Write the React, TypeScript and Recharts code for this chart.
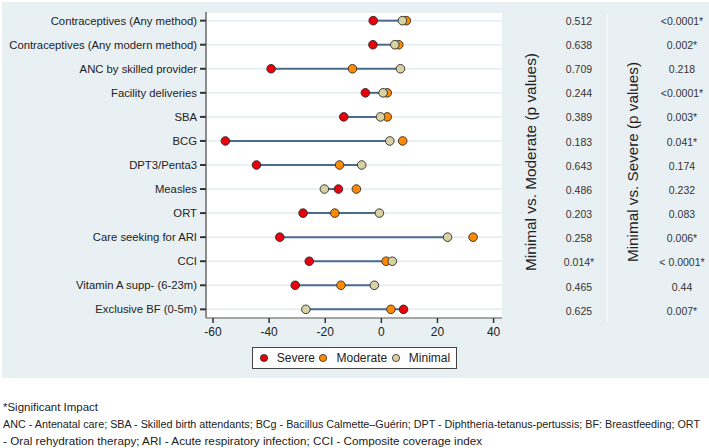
import React from "react";
import {
  ScatterChart,
  Scatter,
  XAxis,
  YAxis,
  CartesianGrid,
  ReferenceLine,
  Legend,
} from "recharts";

const categories = [
  "Contraceptives (Any method)",
  "Contraceptives (Any modern method)",
  "ANC by skilled provider",
  "Facility deliveries",
  "SBA",
  "BCG",
  "DPT3/Penta3",
  "Measles",
  "ORT",
  "Care seeking for ARI",
  "CCI",
  "Vitamin A supp- (6-23m)",
  "Exclusive BF (0-5m)",
];

const severe = [-2.9, -3.0, -39.3, -5.7, -13.4, -55.6, -44.5, -15.3, -27.9, -36.2, -25.7, -30.7, 7.9];
const moderate = [8.9, 6.2, -10.3, 2.1, 2.1, 7.6, -14.9, -8.9, -16.6, 32.7, 1.7, -14.4, 3.4];
const minimal = [7.5, 4.8, 6.8, 0.6, -0.3, 3.0, -7.0, -20.3, -0.7, 23.6, 3.9, -2.5, -26.9];

const pModerate = ["0.512", "0.638", "0.709", "0.244", "0.389", "0.183", "0.643", "0.486", "0.203", "0.258", "0.014*", "0.465", "0.625"];
const pSevere = ["<0.0001*", "0.002*", "0.218", "<0.0001*", "0.003*", "0.041*", "0.174", "0.232", "0.083", "0.006*", "< 0.0001*", "0.44", "0.007*"];

const xTicks = [-60, -40, -20, 0, 20, 40];

const footnotes = [
  "*Significant Impact",
  "ANC - Antenatal care; SBA - Skilled birth attendants; BCg - Bacillus Calmette\u2013Gu\u00e9rin; DPT - Diphtheria-tetanus-pertussis; BF: Breastfeeding; ORT",
  "- Oral rehydration therapy; ARI - Acute respiratory infection; CCI - Composite coverage index",
];

const COLORS = { Severe: "#E8000B", Moderate: "#FF8A00", Minimal: "#D8D2A2" };

const toPoints = (arr: number[]) => arr.map((x, i) => ({ x, y: i }));

const seriesList = [
  { name: "Severe", data: toPoints(severe), color: COLORS.Severe },
  { name: "Moderate", data: toPoints(moderate), color: COLORS.Moderate },
  { name: "Minimal", data: toPoints(minimal), color: COLORS.Minimal },
];

const FONT = "Liberation Sans, Arial, sans-serif";

const Dot = (props: any) => {
  const { cx, cy, fill } = props;
  if (cx == null || cy == null) return null;
  return <circle cx={cx} cy={cy} r={4.3} fill={fill} stroke="#2a2a2a" strokeWidth={0.9} />;
};

const YTick = (props: any) => {
  const { x, y, payload } = props;
  return (
    <text x={x - 1} y={y} dy={4} textAnchor="end" fontFamily={FONT} fontSize={11.3} fill="#222">
      {categories[payload.value] ?? ""}
    </text>
  );
};

const LegendContent = () => (
  <div
    style={{
      width: 205,
      height: 22,
      border: "1px solid #444",
      background: "#fff",
      display: "flex",
      alignItems: "center",
      justifyContent: "space-around",
      fontFamily: FONT,
      fontSize: 12,
      color: "#222",
      boxSizing: "border-box",
      padding: "0 4px",
    }}
  >
    {seriesList.map((s) => (
      <span key={s.name} style={{ display: "flex", alignItems: "center" }}>
        <svg width={10} height={10} style={{ marginRight: 8 }}>
          <circle cx={5} cy={5} r={3.6} fill={s.color} stroke="#2a2a2a" strokeWidth={0.8} />
        </svg>
        {s.name}
      </span>
    ))}
  </div>
);

const ROW0 = 20.7;
const ROWSTEP = 24.17;

export default function App() {
  return (
    <div
      style={{
        position: "absolute",
        left: 0,
        top: 0,
        width: 709,
        height: 448,
        background: "#fff",
        overflow: "hidden",
      }}
    >
      <div
        style={{
          position: "absolute",
          left: 2,
          top: 2,
          width: 707,
          height: 376,
          background: "#E9F0F3",
        }}
      />
      <div style={{ position: "absolute", left: 0, top: 0 }}>
        <ScatterChart
          width={520}
          height={380}
          margin={{ top: 12, right: 18, left: 0, bottom: 10 }}
        >
          <CartesianGrid
            horizontal={true}
            vertical={false}
            stroke="#E3ECEF"
            strokeWidth={1.5}
            fill="#ffffff"
          />
          <XAxis
            type="number"
            dataKey="x"
            domain={[-62.5, 43]}
            ticks={xTicks}
            allowDataOverflow
            tickSize={5}
            stroke="#8c8c8c"
            strokeWidth={1.5}
            tick={{ fill: "#222", fontSize: 12, fontFamily: FONT, dy: 2 }}
            tickLine={{ stroke: "#333" }}
            height={30}
          />
          <YAxis
            type="number"
            dataKey="y"
            domain={[-0.36, 12.36]}
            reversed
            ticks={categories.map((_, i) => i)}
            interval={0}
            allowDataOverflow
            width={206}
            tickSize={6}
            stroke="#8c8c8c"
            strokeWidth={2}
            tick={<YTick />}
            tickLine={{ stroke: "#333" }}
          />
          {categories.map((c, i) => (
            <ReferenceLine
              key={c}
              segment={[
                { x: severe[i], y: i },
                { x: minimal[i], y: i },
              ]}
              stroke="#4A6A8E"
              strokeWidth={2}
              ifOverflow="visible"
            />
          ))}
          {seriesList.map((s) => (
            <Scatter
              key={s.name}
              name={s.name}
              data={s.data}
              fill={s.color}
              shape={<Dot />}
              isAnimationActive={false}
            />
          ))}
          <Legend
            content={<LegendContent />}
            wrapperStyle={{ position: "absolute", left: 252, top: 347, width: 205, height: 22 }}
          />
        </ScatterChart>
      </div>
      <svg
        width={709}
        height={448}
        style={{ position: "absolute", left: 0, top: 0, pointerEvents: "none" }}
      >
        <line x1={607} y1={14} x2={607} y2={322} stroke="#F4F8F9" strokeWidth={1.5} />
        <text
          transform={`translate(536, 162) rotate(-90)`}
          textAnchor="middle"
          fontFamily={FONT}
          fontSize={15}
          fill="#222"
          textLength={218}
          lengthAdjust="spacingAndGlyphs"
        >
          Minimal vs. Moderate (p values)
        </text>
        <text
          transform={`translate(638, 162) rotate(-90)`}
          textAnchor="middle"
          fontFamily={FONT}
          fontSize={15}
          fill="#222"
          textLength={200}
          lengthAdjust="spacingAndGlyphs"
        >
          Minimal vs. Severe (p values)
        </text>
        {pModerate.map((p, i) => (
          <text
            key={"m" + i}
            x={579}
            y={ROW0 + i * ROWSTEP + 4}
            textAnchor="middle"
            fontFamily={FONT}
            fontSize={10.5}
            fill="#333"
          >
            {p}
          </text>
        ))}
        {pSevere.map((p, i) => (
          <text
            key={"s" + i}
            x={682}
            y={ROW0 + i * ROWSTEP + 4}
            textAnchor="middle"
            fontFamily={FONT}
            fontSize={10.5}
            fill="#333"
          >
            {p}
          </text>
        ))}
        {footnotes.map((f, i) => (
          <text
            key={"f" + i}
            x={3}
            y={411 + i * 17}
            fontFamily={FONT}
            fontSize={10}
            fill="#222"
            textLength={[95, 697, 479][i]}
            lengthAdjust="spacingAndGlyphs"
          >
            {f}
          </text>
        ))}
      </svg>
    </div>
  );
}
